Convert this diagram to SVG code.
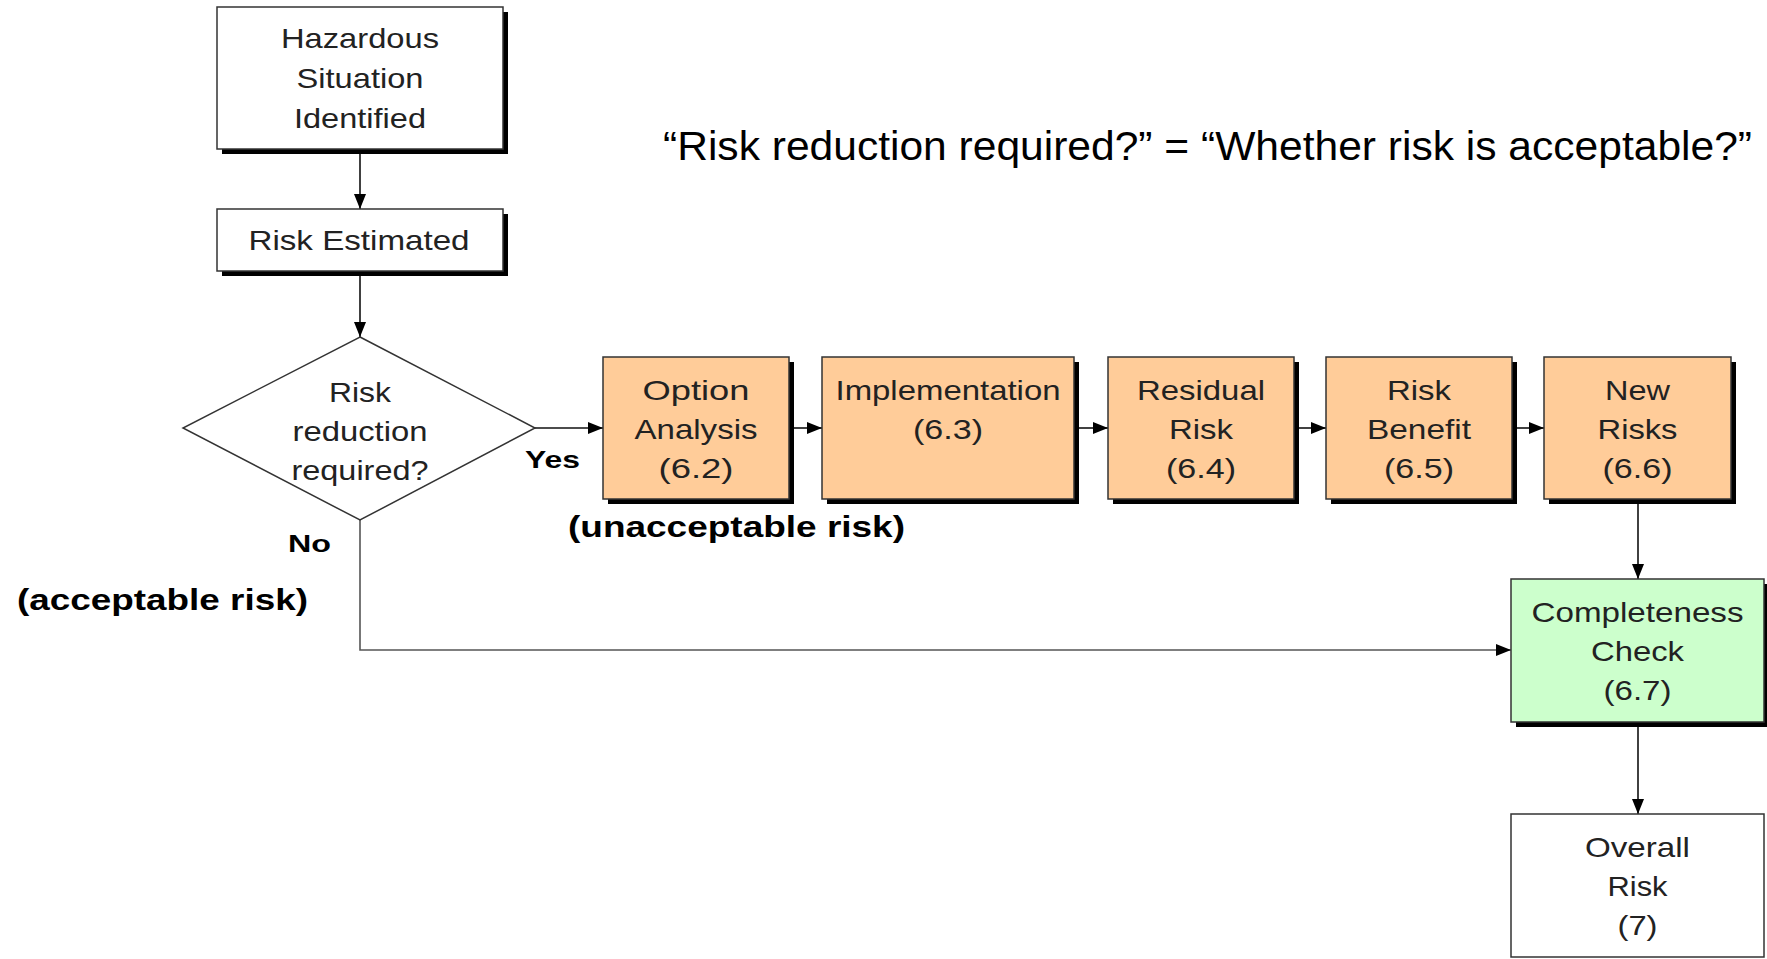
<svg xmlns="http://www.w3.org/2000/svg" width="1767" height="959" viewBox="0 0 1767 959">
<style>
.box{stroke:#333;stroke-width:1.5}
.shadow{fill:#000}
.white{fill:#fff}
.orange{fill:#FFCC99}
.green{fill:#CCFFCC}
.t{font-family:"Liberation Sans",Arial,sans-serif;font-size:28px;fill:#222;text-anchor:middle}
.b{font-family:"Liberation Sans",Arial,sans-serif;font-weight:bold;fill:#000}
.c{stroke:#111;stroke-width:1.6;fill:none}
.cg{stroke:#555;stroke-width:1.6;fill:none}
</style>
<defs>
<marker id="ah" markerUnits="userSpaceOnUse" markerWidth="15" markerHeight="15" viewBox="0 0 15 15" refX="15" refY="7.5" orient="auto">
<path d="M0,1.5 L15,7.5 L0,13.5 Z" fill="#000"/>
</marker>
</defs>
<rect width="1767" height="959" fill="#fff"/>

<g id="connectors">
<line class="c" x1="360" y1="149" x2="360" y2="209" marker-end="url(#ah)"/>
<line class="c" x1="360" y1="271" x2="360" y2="337" marker-end="url(#ah)"/>
<line class="c" x1="535" y1="428" x2="603" y2="428" marker-end="url(#ah)"/>
<line class="c" x1="794" y1="428" x2="822" y2="428" marker-end="url(#ah)"/>
<line class="c" x1="1079" y1="428" x2="1108" y2="428" marker-end="url(#ah)"/>
<line class="c" x1="1299" y1="428" x2="1326" y2="428" marker-end="url(#ah)"/>
<line class="c" x1="1517" y1="428" x2="1544" y2="428" marker-end="url(#ah)"/>
<line class="c" x1="1638" y1="504" x2="1638" y2="579" marker-end="url(#ah)"/>
<line class="c" x1="1638" y1="722" x2="1638" y2="814" marker-end="url(#ah)"/>
<polyline class="cg" points="360,520 360,650 1511,650" marker-end="url(#ah)"/>
</g>

<g id="hazardous">
<rect class="shadow" x="222" y="12" width="286" height="142"/>
<rect class="box white" x="217" y="7" width="286" height="142"/>
<text class="t" x="360" y="48" textLength="158" lengthAdjust="spacingAndGlyphs">Hazardous</text>
<text class="t" x="360" y="88" textLength="127" lengthAdjust="spacingAndGlyphs">Situation</text>
<text class="t" x="360" y="128" textLength="132" lengthAdjust="spacingAndGlyphs">Identified</text>
</g>

<g id="risk-estimated">
<rect class="shadow" x="222" y="214" width="286" height="62"/>
<rect class="box white" x="217" y="209" width="286" height="62"/>
<text class="t" x="359" y="250" textLength="221" lengthAdjust="spacingAndGlyphs">Risk Estimated</text>
</g>

<g id="decision">
<polygon class="box white" points="360,337 535,428 360,520 183,428"/>
<text class="t" x="360" y="402" textLength="62" lengthAdjust="spacingAndGlyphs">Risk</text>
<text class="t" x="360" y="441" textLength="135" lengthAdjust="spacingAndGlyphs">reduction</text>
<text class="t" x="360" y="480" textLength="137" lengthAdjust="spacingAndGlyphs">required?</text>
</g>

<g id="option-analysis">
<rect class="shadow" x="608" y="362" width="186" height="142"/>
<rect class="box orange" x="603" y="357" width="186" height="142"/>
<text class="t" x="696" y="400" textLength="107" lengthAdjust="spacingAndGlyphs">Option</text>
<text class="t" x="696" y="439" textLength="123" lengthAdjust="spacingAndGlyphs">Analysis</text>
<text class="t" x="696" y="478" textLength="75" lengthAdjust="spacingAndGlyphs">(6.2)</text>
</g>

<g id="implementation">
<rect class="shadow" x="827" y="362" width="252" height="142"/>
<rect class="box orange" x="822" y="357" width="252" height="142"/>
<text class="t" x="948" y="400" textLength="225" lengthAdjust="spacingAndGlyphs">Implementation</text>
<text class="t" x="948" y="439" textLength="70" lengthAdjust="spacingAndGlyphs">(6.3)</text>
</g>

<g id="residual-risk">
<rect class="shadow" x="1113" y="362" width="186" height="142"/>
<rect class="box orange" x="1108" y="357" width="186" height="142"/>
<text class="t" x="1201" y="400" textLength="128" lengthAdjust="spacingAndGlyphs">Residual</text>
<text class="t" x="1201" y="439" textLength="64" lengthAdjust="spacingAndGlyphs">Risk</text>
<text class="t" x="1201" y="478" textLength="70" lengthAdjust="spacingAndGlyphs">(6.4)</text>
</g>

<g id="risk-benefit">
<rect class="shadow" x="1331" y="362" width="186" height="142"/>
<rect class="box orange" x="1326" y="357" width="186" height="142"/>
<text class="t" x="1419" y="400" textLength="64" lengthAdjust="spacingAndGlyphs">Risk</text>
<text class="t" x="1419" y="439" textLength="104" lengthAdjust="spacingAndGlyphs">Benefit</text>
<text class="t" x="1419" y="478" textLength="70" lengthAdjust="spacingAndGlyphs">(6.5)</text>
</g>

<g id="new-risks">
<rect class="shadow" x="1549" y="362" width="187" height="142"/>
<rect class="box orange" x="1544" y="357" width="187" height="142"/>
<text class="t" x="1637.5" y="400" textLength="65" lengthAdjust="spacingAndGlyphs">New</text>
<text class="t" x="1637.5" y="439" textLength="80" lengthAdjust="spacingAndGlyphs">Risks</text>
<text class="t" x="1637.5" y="478" textLength="70" lengthAdjust="spacingAndGlyphs">(6.6)</text>
</g>

<g id="completeness-check">
<rect class="shadow" x="1516" y="584" width="253" height="143"/>
<rect class="box green" x="1511" y="579" width="253" height="143"/>
<text class="t" x="1637.5" y="622" textLength="212" lengthAdjust="spacingAndGlyphs">Completeness</text>
<text class="t" x="1637.5" y="661" textLength="93" lengthAdjust="spacingAndGlyphs">Check</text>
<text class="t" x="1637.5" y="700" textLength="68" lengthAdjust="spacingAndGlyphs">(6.7)</text>
</g>

<g id="overall-risk">
<rect class="box white" x="1511" y="814" width="253" height="143"/>
<text class="t" x="1637.5" y="857" textLength="105" lengthAdjust="spacingAndGlyphs">Overall</text>
<text class="t" x="1637.5" y="896" textLength="60" lengthAdjust="spacingAndGlyphs">Risk</text>
<text class="t" x="1637.5" y="935" textLength="40" lengthAdjust="spacingAndGlyphs">(7)</text>
</g>

<g id="labels">
<text class="b" x="525" y="468" font-size="24" textLength="55" lengthAdjust="spacingAndGlyphs">Yes</text>
<text class="b" x="288" y="552" font-size="24" textLength="43" lengthAdjust="spacingAndGlyphs">No</text>
<text class="b" x="568" y="537" font-size="30" textLength="337" lengthAdjust="spacingAndGlyphs">(unacceptable risk)</text>
<text class="b" x="17" y="610" font-size="30" textLength="291" lengthAdjust="spacingAndGlyphs">(acceptable risk)</text>
<text x="663" y="160" font-family="'Liberation Sans',Arial,sans-serif" font-size="41" fill="#000" textLength="1089" lengthAdjust="spacingAndGlyphs">“Risk reduction required?” = “Whether risk is acceptable?”</text>
</g>
</svg>
